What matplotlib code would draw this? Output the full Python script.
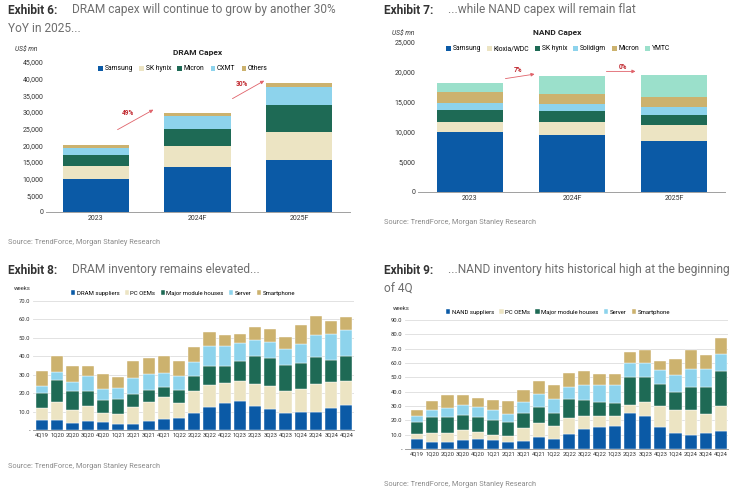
import numpy as np
import matplotlib.pyplot as plt

plt.rcParams['font.family'] = ['Roboto', 'DejaVu Sans']

W, H = 740, 495

# ---- data ----
capex_years = ['2023', '2024F', '2025F']
dram_names = ['Samsung', 'SK hynix', 'Micron', 'CXMT', 'Others']
dram_capex = [
    [10000, 13500, 15500],
    [3800, 6400, 8400],
    [3200, 4900, 8100],
    [2300, 4000, 5400],
    [700, 1000, 1300],
]

nand_names = ['Samsung', 'Kioxia/WDC', 'SK hynix', 'Solidigm', 'Micron', 'YMTC']
nand_capex = [
    [10000, 9450, 8450],
    [1700, 2200, 2750],
    [2000, 1850, 1650],
    [1100, 1100, 1300],
    [1900, 1800, 1700],
    [1400, 3000, 3650],
]

quarters = ['4Q19', '1Q20', '2Q20', '3Q20', '4Q20', '1Q21', '2Q21', '3Q21', '4Q21',
            '1Q22', '2Q22', '3Q22', '4Q22', '1Q23', '2Q23', '3Q23', '4Q23',
            '1Q24', '2Q24', '3Q24', '4Q24']

dram_inv_names = ['DRAM suppliers', 'PC OEMs', 'Major module houses', 'Server', 'Smartphone']
dram_suppliers = [5.4, 5.4, 4.0, 5.0, 4.2, 3.4, 3.4, 4.9, 5.8, 6.5, 9.2, 12.6, 14.6, 15.9, 13.2, 11.2, 9.2, 9.6, 9.6, 11.9, 13.7]
dram_pc = [6.7, 9.6, 6.8, 7.8, 5.0, 5.1, 8.9, 10.4, 11.9, 8.3, 11.9, 11.9, 11.0, 10.8, 11.9, 12.8, 11.9, 12.6, 15.5, 14.3, 13.0]
dram_module = [8.1, 12.0, 10.3, 8.5, 6.9, 8.1, 7.0, 6.5, 5.6, 6.7, 8.1, 10.0, 9.4, 11.0, 15.0, 15.2, 14.1, 14.1, 14.3, 11.9, 13.6]
dram_server = [3.6, 4.6, 4.9, 7.9, 5.9, 6.1, 8.9, 8.7, 7.9, 7.9, 7.8, 11.0, 10.5, 9.6, 8.6, 8.5, 9.0, 10.3, 11.9, 13.9, 13.7]
dram_phone = [8.2, 8.4, 9.0, 5.5, 8.3, 6.0, 9.0, 8.7, 8.7, 8.1, 7.8, 7.7, 5.9, 4.9, 7.1, 7.0, 6.2, 10.3, 10.3, 7.0, 7.2]

nand_inv_names = ['NAND suppliers', 'PC OEMs', 'Major module houses', 'Server', 'Smartphone']
nand_suppliers = [6.7, 5.1, 4.6, 6.5, 6.7, 6.0, 4.6, 5.3, 8.4, 7.2, 10.7, 13.7, 15.3, 16.0, 25.1, 23.2, 15.3, 11.4, 9.7, 11.1, 12.8]
nand_pc = [3.7, 6.3, 6.3, 6.5, 5.1, 3.7, 4.4, 9.1, 9.7, 8.6, 10.9, 9.3, 7.7, 7.0, 5.8, 9.7, 14.4, 15.5, 17.4, 13.5, 17.1]
nand_module = [8.2, 10.6, 11.6, 10.9, 10.2, 10.7, 9.6, 10.9, 10.9, 9.5, 13.2, 10.9, 9.7, 9.0, 19.0, 17.4, 15.5, 12.8, 16.1, 19.0, 24.2]
nand_server = [4.4, 5.1, 6.0, 6.7, 7.2, 6.7, 6.0, 7.2, 9.3, 9.3, 8.4, 10.9, 12.1, 12.8, 10.2, 10.0, 10.0, 11.6, 12.5, 11.9, 12.5]
nand_phone = [3.9, 6.1, 8.9, 7.4, 6.3, 6.8, 8.6, 9.0, 8.8, 9.9, 9.7, 9.3, 7.4, 7.4, 7.4, 9.1, 6.5, 11.3, 13.7, 9.9, 11.1]

BLUE = '#0B5AA6'
BEIGE = '#ECE4C3'
GREEN = '#1E6A55'
LBLUE = '#8DD3EC'
GOLD = '#CCB26E'
MINT = '#9BE0CB'
five_cols = [BLUE, BEIGE, GREEN, LBLUE, GOLD]
six_cols = [BLUE, BEIGE, GREEN, LBLUE, GOLD, MINT]
ARROW = '#E0626A'
PCT = '#C0262D'


def box(x0, y0, x1, y1):
    return [x0 / W, 1 - y1 / H, (x1 - x0) / W, (y1 - y0) / H]


def stack(ax, cats, series, colors, width, edge=None):
    x = np.arange(len(cats))
    bottom = np.zeros(len(cats))
    handles = []
    for vals, c in zip(series, colors):
        vals = np.array(vals, dtype=float)
        b = ax.bar(x, vals, width, bottom=bottom, color=c,
                   edgecolor=edge if edge else c, linewidth=0.3 if edge else 0)
        handles.append(b)
        bottom += vals
    return handles


def style(ax, tick_fs, grid=False):
    for s in ['top', 'right', 'left']:
        ax.spines[s].set_visible(False)
    ax.spines['bottom'].set_color('#a0a0a0')
    ax.spines['bottom'].set_linewidth(0.7)
    ax.tick_params(axis='both', length=0, labelsize=tick_fs, colors='#333333', pad=2)
    if grid:
        ax.yaxis.grid(True, color='#dddddd', linewidth=0.6)
        ax.set_axisbelow(True)


def header(x, y, num, text, size=8.6):
    fig.text(x / W, 1 - y / H, num, fontsize=size, fontweight='bold',
             color='#333333', va='center', ha='left')
    fig.text((x + 64) / W, 1 - y / H, text, fontsize=size, color='#6e6e6e',
             va='center', ha='left')


def legend(handles, names, x, y, fs):
    fig.legend(handles, names, loc='center', bbox_to_anchor=(x / W, 1 - y / H),
               ncol=len(names), frameon=False, fontsize=fs, handlelength=0.7,
               handleheight=0.7, handletextpad=0.25, columnspacing=0.9)


fig = plt.figure(figsize=(W / 100, H / 100), dpi=100)

# ---- Exhibit 6 ----
header(8, 10, 'Exhibit 6:', 'DRAM capex will continue to grow by another 30%')
fig.text(8 / W, 1 - 29 / H, 'YoY in 2025...', fontsize=8.6, color='#6e6e6e', va='center')
ax1 = fig.add_axes(box(46, 62, 350, 212))
h = stack(ax1, capex_years, dram_capex, five_cols, 0.65)
ax1.set_xlim(-0.49, 2.5)
ax1.set_ylim(0, 45000)
ax1.set_yticks(np.arange(0, 45001, 5000))
ax1.set_yticklabels([f'{v:,}' for v in range(0, 45001, 5000)])
ax1.set_xticks(range(3))
ax1.set_xticklabels(capex_years)
style(ax1, 5)
fig.text(15 / W, 1 - 49 / H, 'US$ mn', fontsize=4.8, style='italic', color='#333333', va='center')
fig.text(198 / W, 1 - 53 / H, 'DRAM Capex', fontsize=6, fontweight='bold', color='#222222',
         ha='center', va='center')
legend(h, dram_names, 183, 69, 4.9)
ax1.annotate('', xy=(0.59, 31100), xytext=(0.19, 24300),
             arrowprops=dict(arrowstyle='-|>', color=ARROW, lw=0.6, mutation_scale=5))
ax1.text(0.32, 29800, '49%', fontsize=4.7, color=PCT, fontweight='bold', ha='center', va='center')
ax1.annotate('', xy=(1.68, 39800), xytext=(1.32, 33600),
             arrowprops=dict(arrowstyle='-|>', color=ARROW, lw=0.6, mutation_scale=5))
ax1.text(1.44, 38300, '30%', fontsize=4.7, color=PCT, fontweight='bold', ha='center', va='center')
fig.text(8 / W, 1 - 242 / H, 'Source: TrendForce, Morgan Stanley Research', fontsize=5.3,
         color='#8a8a8a', va='center')

# ---- Exhibit 7 ----
header(384, 10, 'Exhibit 7:', '...while NAND capex will remain flat')
ax2 = fig.add_axes(box(418, 42, 725, 192))
h = stack(ax2, capex_years, nand_capex, six_cols, 0.65)
ax2.set_xlim(-0.51, 2.5)
ax2.set_ylim(0, 25000)
ax2.set_yticks(np.arange(0, 25001, 5000))
ax2.set_yticklabels([f'{v:,}' for v in range(0, 25001, 5000)])
ax2.set_xticks(range(3))
ax2.set_xticklabels(capex_years)
style(ax2, 5)
fig.text(392 / W, 1 - 33 / H, 'US$ mn', fontsize=4.8, style='italic', color='#333333', va='center')
fig.text(557 / W, 1 - 33 / H, 'NAND Capex', fontsize=6, fontweight='bold', color='#222222',
         ha='center', va='center')
legend(h, nand_names, 558, 49, 4.9)
ax2.annotate('', xy=(0.66, 19720), xytext=(0.32, 18830),
             arrowprops=dict(arrowstyle='-|>', color=ARROW, lw=0.6, mutation_scale=5))
ax2.text(0.47, 20300, '7%', fontsize=4.7, color=PCT, fontweight='bold', ha='center', va='center')
ax2.annotate('', xy=(1.65, 20100), xytext=(1.31, 20100),
             arrowprops=dict(arrowstyle='-|>', color=ARROW, lw=0.6, mutation_scale=5))
ax2.text(1.5, 20900, '0%', fontsize=4.7, color=PCT, fontweight='bold', ha='center', va='center')
fig.text(384 / W, 1 - 223 / H, 'Source: TrendForce, Morgan Stanley Research', fontsize=5.3,
         color='#8a8a8a', va='center')

# ---- Exhibit 8 ----
header(8, 270, 'Exhibit 8:', 'DRAM inventory remains elevated...')
ax3 = fig.add_axes(box(33, 301, 354, 430))
h = stack(ax3, quarters, [dram_suppliers, dram_pc, dram_module, dram_server, dram_phone],
          five_cols, 0.8, edge='white')
ax3.set_xlim(-0.6, 20.5)
ax3.set_ylim(0, 70)
ax3.set_yticks(np.arange(0, 71, 10))
ax3.set_yticklabels(['-'] + [f'{v:.1f}' for v in range(10, 71, 10)])
ax3.set_xticks(range(len(quarters)))
ax3.set_xticklabels(quarters)
style(ax3, 4.2, grid=True)
fig.text(14 / W, 1 - 289 / H, 'weeks', fontsize=4.3, color='#333333', va='center')
legend(h, dram_inv_names, 183, 293, 4.3)
fig.text(8 / W, 1 - 466 / H, 'Source: TrendForce, Morgan Stanley Research', fontsize=5.3,
         color='#8a8a8a', va='center')

# ---- Exhibit 9 ----
header(384, 270, 'Exhibit 9:', '...NAND inventory hits historical high at the beginning')
fig.text(384 / W, 1 - 289 / H, 'of 4Q', fontsize=8.6, color='#6e6e6e', va='center')
ax4 = fig.add_axes(box(405, 320, 728, 449))
h = stack(ax4, quarters, [nand_suppliers, nand_pc, nand_module, nand_server, nand_phone],
          five_cols, 0.8, edge='white')
ax4.set_xlim(-0.8, 20.45)
ax4.set_ylim(0, 90)
ax4.set_yticks(np.arange(0, 91, 10))
ax4.set_yticklabels(['-'] + [f'{v:.1f}' for v in range(10, 91, 10)])
ax4.set_xticks(range(len(quarters)))
ax4.set_xticklabels(quarters)
style(ax4, 4.2, grid=True)
fig.text(393 / W, 1 - 308 / H, 'weeks', fontsize=4.3, color='#333333', va='center')
legend(h, nand_inv_names, 558, 312, 4.3)
fig.text(384 / W, 1 - 485 / H, 'Source: TrendForce, Morgan Stanley Research', fontsize=5.3,
         color='#8a8a8a', va='center')

fig.savefig('out.png', dpi=100)
